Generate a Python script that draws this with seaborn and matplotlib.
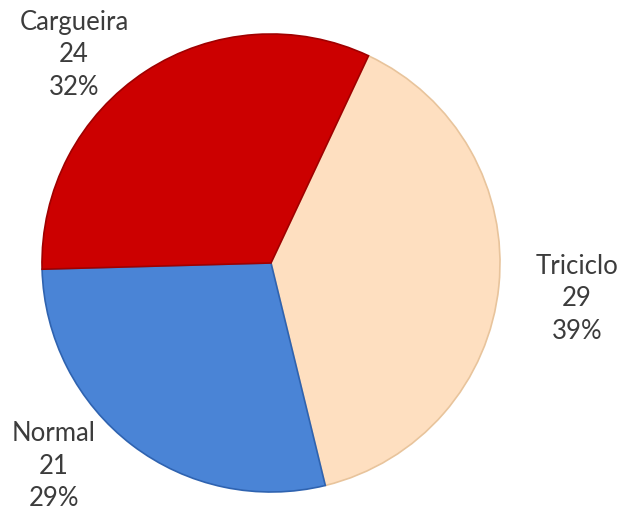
import matplotlib
matplotlib.use("Agg")
import matplotlib.pyplot as plt
import seaborn as sns
import numpy as np

sns.set_theme(style="white")
plt.rcParams['font.family'] = ['Lato', 'DejaVu Sans']

categories = ["Triciclo", "Normal", "Cargueira"]
values = [29, 21, 24]
percents = ["39%", "29%", "32%"]
colors = ["#FEDFC0", "#4A84D6", "#CC0000"]
edge_colors = ["#E8C49C", "#2F63B0", "#A00000"]

W, H = 619, 511
fig = plt.figure(figsize=(W / 100, H / 100), dpi=100)
ax = fig.add_axes([0, 0, 1, 1])

cx, cy, R = 271, 263, 229
wedges, _ = ax.pie(values, colors=colors, startangle=64.8, counterclock=False,
                   radius=1.0, center=(0, 0),
                   wedgeprops=dict(linewidth=1.2, edgecolor="white"))
for w, ec in zip(wedges, edge_colors):
    w.set_edgecolor(ec)

ax.set_aspect('auto')
ax.set_xlim(-cx / R, (W - cx) / R)
ax.set_ylim(-(H - cy) / R, cy / R)
ax.axis('off')

# label positions (pixel centres of the label blocks)
label_px = {"Triciclo": (577, 299), "Normal": (54, 466), "Cargueira": (74, 55)}
for cat, v, p in zip(categories, values, percents):
    px, py = label_px[cat]
    x = (px - cx) / R
    y = (cy - py) / R
    ax.text(x, y, f"{cat}\n{v}\n{p}", ha="center", va="center",
            fontsize=18.5, color="#3c3c3c", linespacing=1.38)

fig.savefig("out.png", dpi=100)
